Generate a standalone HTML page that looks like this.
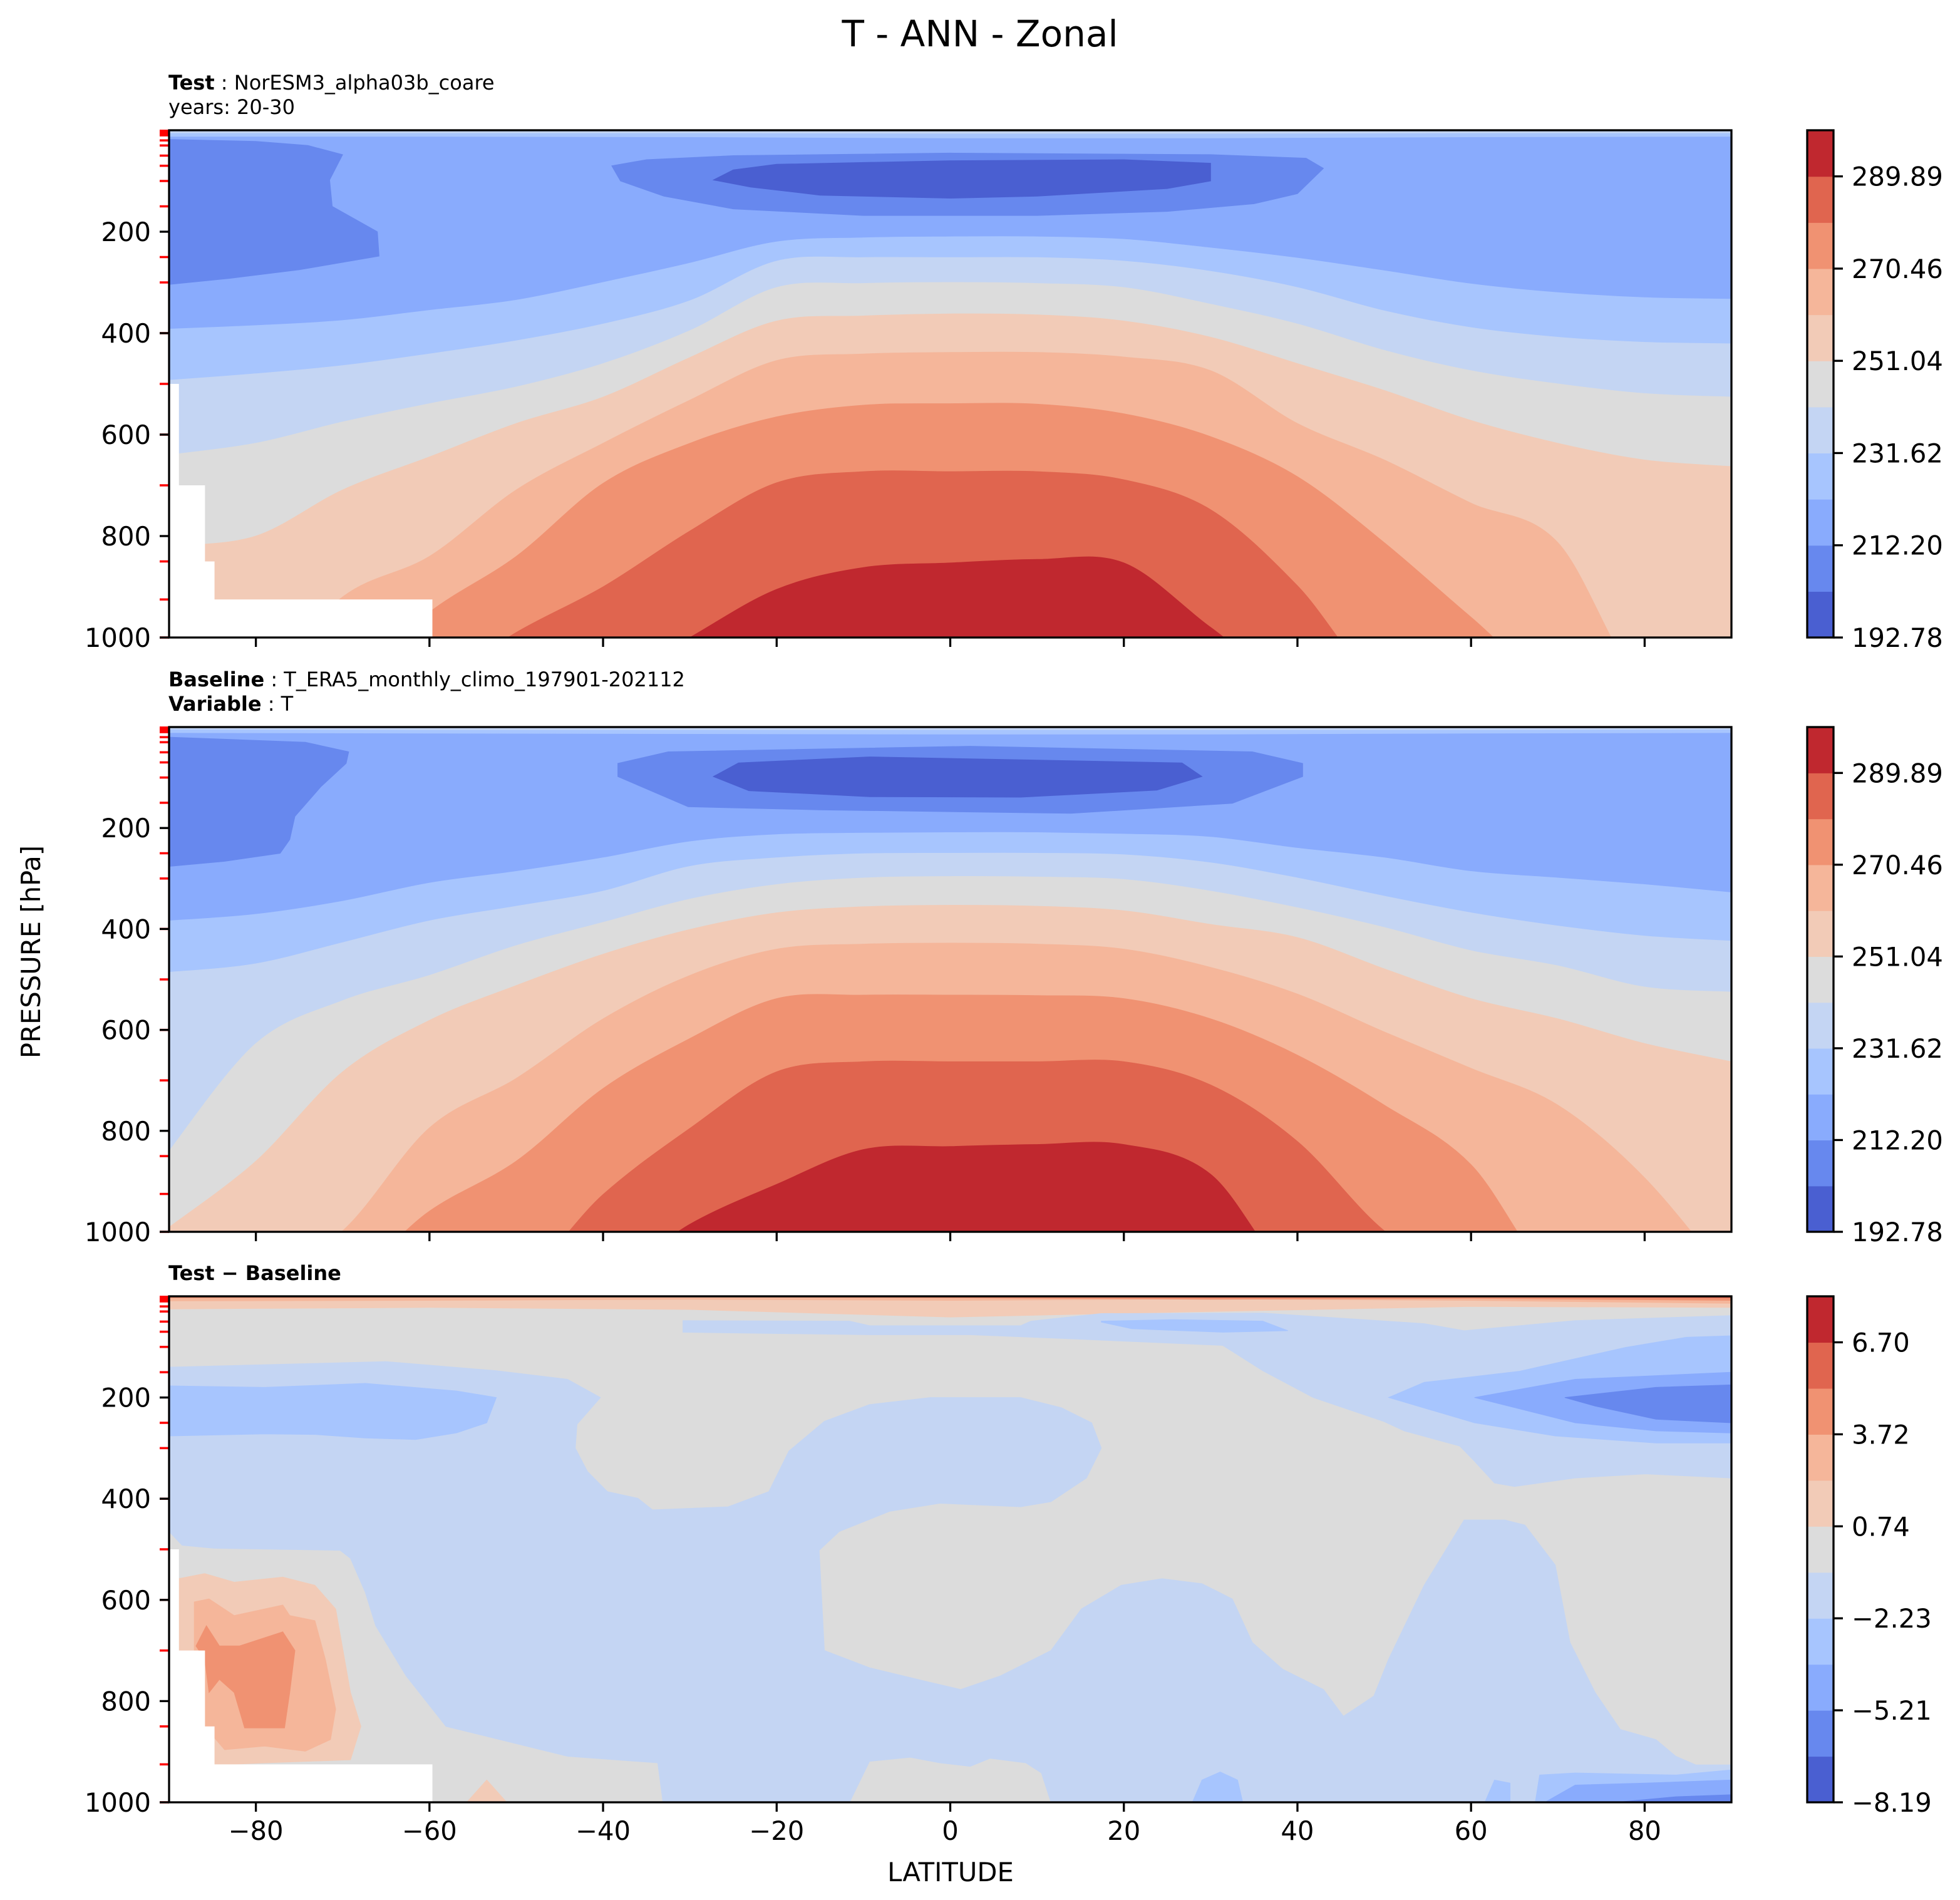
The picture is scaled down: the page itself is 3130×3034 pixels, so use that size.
<!DOCTYPE html>
<html><head><meta charset="utf-8">
<style>
html,body{margin:0;padding:0;background:#fff;}
svg{display:block;font-family:"DejaVu Sans","Liberation Sans",sans-serif;}
</style></head>
<body>
<svg id="fig" xmlns="http://www.w3.org/2000/svg" width="3130" height="3034" viewBox="0 0 3130 3034">
<rect x="0" y="0" width="3130" height="3034" fill="#fff"/>
<text x="1565" y="74" text-anchor="middle" font-size="58">T - ANN - Zonal</text>
<text x="269" y="143" font-size="32"><tspan font-weight="bold">Test</tspan><tspan> : NorESM3_alpha03b_coare</tspan></text>
<text x="269" y="182" font-size="32">years: 20-30</text>
<text x="269" y="1096" font-size="32"><tspan font-weight="bold">Baseline</tspan><tspan> : T_ERA5_monthly_climo_197901-202112</tspan></text>
<text x="269" y="1135" font-size="32"><tspan font-weight="bold">Variable</tspan><tspan> : T</tspan></text>
<text x="269" y="2044" font-size="32" font-weight="bold">Test − Baseline</text>
<text x="1518" y="3004" text-anchor="middle" font-size="41.7">LATITUDE</text>
<text x="0" y="0" transform="translate(64,1520) rotate(-90)" text-anchor="middle" font-size="41.7">PRESSURE [hPa]</text>
<g id="plots"></g>
</svg>
<script>
// ---------- data ----------
const lats = [-90,-80,-70,-60,-50,-40,-30,-20,-10,0,10,20,30,40,50,60,70,80,90];
// Test panel: pressure (hPa) of each contour level boundary (bin k begins below)
const p1k3 = [392,385,375,355,335,300,262,220,212,210,210,215,232,252,277,303,320,330,333];
const p1k4 = [493,480,464,441,415,382,336,258,251,251,251,258,278,310,356,389,408,418,421];
const p1k5 = [640,617,575,539,506,460,395,310,302,300,302,310,343,382,434,474,500,519,526];
const p1k6 = [820,800,709,644,578,526,448,376,366,362,364,376,408,460,513,572,617,650,663];
const p1k7 = [1100,1100,920,840,709,617,532,454,441,438,438,447,474,578,650,735,813,1100,1100];
const p1k8 = [1100,1100,1100,950,840,696,617,565,542,539,540,559,604,683,813,960,1100,1100,1100];
const p1k9 = [1100,1100,1100,1100,990,900,790,695,673,673,673,689,748,898,1100,1100,1100,1100,1100];
const p1k10 = [1100,1100,1100,1100,1100,1100,1000,905,862,853,846,853,980,1100,1100,1100,1100,1100,1100];
// Baseline panel
const p2k3 = [384,371,345,309,286,259,227,213,210,209,209,212,218,240,259,286,299,312,328];
const p2k4 = [486,469,427,384,355,325,276,259,251,250,250,253,269,299,335,368,394,414,424];
const p2k5 = [840,627,542,492,433,387,341,312,299,296,297,302,325,358,397,443,473,515,525];
const p2k6 = [991,860,683,581,512,450,401,368,356,353,355,364,391,417,479,538,578,627,663];
const p2k7 = [1100,1100,998,794,696,578,492,440,430,428,430,440,476,529,604,676,749,893,1100];
const p2k8 = [1100,1100,1100,959,860,716,617,538,531,531,532,538,578,650,749,867,1100,1100,1100];
const p2k9 = [1100,1100,1100,1100,1100,926,795,683,663,663,663,663,709,821,998,1100,1100,1100,1100];
const p2k10 = [1100,1100,1100,1100,1100,1100,985,906,837,831,827,827,886,1100,1100,1100,1100,1100,1100];
// stratospheric cold regions (lat, hPa)
const p1PolarLat = [-90,-80,-74,-70,-71.5,-71.2,-66,-65.8,-75,-83,-90];
const p1PolarP = [18,22,30,48,98,150,200,248,275,292,304];
const p1TropLat = [-39,-38,-33,-25,-10,10,25,35,40,43,41,30,0,-25,-35];
const p1TropP = [70,100,130,155,168,168,160,145,125,75,55,48,45,50,58];
const p1CoreLat = [-27.3,-25,-20,0,20,30,30,25,10,0,-15,-23];
const p1CoreP = [98,78,67,60,58,65,100,115,130,134,128,112];
const p2PolarLat = [-90,-74.3,-69.3,-69.6,-72.5,-75.5,-76.1,-77.2,-83.6,-90];
const p2PolarP = [20,30,49,72,118,177,223,250,266,276];
const p2TropLat = [-38.3,-32.5,2.3,34.8,40.6,40.6,32.5,13.9,-15.1,-30.2,-38.3];
const p2TropP = [72,49,38,49,72,98,151,171,164,158,98];
const p2CoreLat = [-27.3,-24.4,-9.3,26.7,29,23.8,8.1,-9.3,-23.2];
const p2CoreP = [98,71,59,71,98,125,139,138,126];
// top thin bands
const topLats = [-90,-60,-30,0,30,60,90];
const p1TopA = [12,12,13,15,15,13,12];
const p1TopC = [5,5,5,6,6,5,5];
const p2TopA = [11,12,13,14,14,12,11];
const p2TopC = [4,5,5,5,5,5,4];
const p3Top6 = [25,22,26,41,30,20,22];
const p3Top7 = [9,8,6,8,5,8,14];
const p3Top8 = [3,2,1,3,6,4,8];
const p3Top9 = [0,0,0,0,2,1,3];
// difference panel regions: [lat, hPa] vertices
const dA = [[-90,140],[-65,129],[-52.3,147],[-44.1,164],[-40.3,200],[-43,253],[-43.2,300],[-41.8,346],[-39.5,386],[-36,399],[-34.3,422],[-25.6,416],[-20.9,386],[-18.6,306],[-14.5,247],[-9.3,214],[-2.3,200],[8.1,200],[12.8,220],[16.3,250],[17.4,300],[15.7,359],[11.6,406],[8.1,416],[-1.2,409],[-7,425],[-12.8,465],[-15.1,502],[-14.5,700],[-9.3,734],[-2.3,763],[1.2,777],[5.8,750],[11.6,700],[15.1,618],[19.7,571],[24.4,558],[29,568],[32.5,598],[34.8,684],[38.3,737],[43,777],[45.3,830],[48.8,790],[50.5,717],[54.6,571],[59.2,442],[63.9,442],[66.2,452],[69.7,531],[71.4,684],[74.3,783],[77.2,856],[81.3,876],[83.6,909],[85.9,926],[90,926],[90,1000],[11.6,1000],[10.5,942],[8.7,922],[4.6,913],[2.3,929],[-1.2,922],[-4.6,911],[-9.3,919],[-11.6,1000],[-33.1,1000],[-33.7,922],[-44.1,909],[-58.1,850],[-62.7,750],[-66.2,651],[-67.4,585],[-69.1,518],[-70.3,502],[-84.8,498],[-88.5,492],[-90,465]];
const dC = [[-30.8,48],[-11.6,49],[-9.3,58],[8.1,58],[9.3,49],[17.4,34],[36,33],[54.6,54],[59.2,68],[72,48],[90,38],[90,359],[80.1,351],[72,359],[65,376],[62.7,369],[60.4,326],[58.7,296],[52.3,266],[49.9,247],[41.8,200],[36,147],[31.4,97],[13.9,84],[2.3,76],[-9.3,76],[-30.8,71]];
const dD = [[17.4,49],[25.6,46],[36,49],[38.9,68],[31.4,71],[20.9,64],[17.4,51]];
const dE = [[50.5,200],[54.6,170],[65.6,148],[77.8,101],[84.8,81],[90,78],[90,290],[81.3,290],[69.7,276],[60.4,250]];
const dF = [[60.4,200],[72,164],[90,150],[90,270],[81.3,266],[72,250]];
const dG = [[70.8,200],[81.3,180],[90,175],[90,250],[81.3,243],[74.3,217]];
const dB = [[-90,177],[-79,180],[-67.4,172],[-56.9,187],[-52.3,200],[-53.4,250],[-56.9,270],[-61.6,283],[-67.4,280],[-73.2,273],[-79,272],[-90,276]];
const dR1 = [[-88.9,558],[-85.9,548],[-82.5,565],[-76.9,555],[-73.2,571],[-70.8,618],[-69.1,783],[-67.9,850],[-69.1,916],[-79,922],[-84.2,926],[-88.9,926]];
const dR2 = [[-87.1,604],[-85.4,598],[-82.5,631],[-76.9,610],[-76.1,631],[-73.2,641],[-72,717],[-70.8,816],[-71.4,876],[-74.3,899],[-79,889],[-83.6,896],[-85.9,850],[-87.1,717]];
const dR3 = [[-86.9,691],[-85.7,651],[-84.2,691],[-81.9,691],[-76.9,663],[-75.5,700],[-76.1,783],[-76.7,853],[-81.3,853],[-82.5,783],[-84.2,757],[-85.4,783],[-85.9,717]];
const dR4 = [[-55.7,1000],[-53.4,956],[-51.1,1000]];
const dP1 = [[27.9,1000],[29,956],[31.1,940],[33.1,956],[33.7,1000]];
const dP2 = [[61.6,1000],[62.7,956],[64.5,962],[64.5,1000]];
const dP3 = [[67.4,1000],[67.9,946],[72,942],[83.6,946],[90,936],[90,1000]];
const dP4 = [[68.5,1000],[72,966],[80.1,962],[90,956],[90,1000]];
const dP5 = [[76.7,1000],[83.6,989],[90,985],[90,1000]];
// topography mask
const maskLatEdges = [-90,-88.9,-85.9,-84.8,-59.7];
const maskTopP = [500,700,850,925];
// axes ticks
const pTicks = [200,400,600,800,1000];
const levelTicks = [1,2,3,5,7,10,20,30,50,70,100,150,250,300,400,500,600,700,850,925,1000];
const latTicks = [-80,-60,-40,-20,0,20,40,60,80];
const cbar1Labels = ["192.78","212.20","231.62","251.04","270.46","289.89"];
const cbar3Labels = ["−8.19","−5.21","−2.23","0.74","3.72","6.70"];
const cmap = ["#4a5fd1","#6788ee","#89abfd","#a7c5fe","#c4d5f3","#dcdcdc","#f2cbb7","#f5b69a","#f09272","#e0654f","#c0282f"];

// ---------- drawing ----------
const NS = "http://www.w3.org/2000/svg";
const X0 = 270, XW = 2495;
const panels = [{top:208,h:810},{top:1161,h:806},{top:2070,h:808}];
const CBX = 2886, CBW = 42;
const root = document.getElementById('plots');
function xl(lat){ return X0 + (lat + 90) / 180 * XW; }
function mk(tag, attrs, parent){
  const e = document.createElementNS(NS, tag);
  for (const k in attrs) e.setAttribute(k, attrs[k]);
  parent.appendChild(e);
  return e;
}
function polyStr(pts, yf){ return pts.map(q => xl(q[0]).toFixed(1) + ',' + yf(q[1]).toFixed(1)).join(' '); }
function smoothPath(pts){
  let d = 'M' + pts[0][0].toFixed(1) + ',' + pts[0][1].toFixed(1);
  for (let i = 0; i < pts.length - 1; i++){
    const p0 = pts[Math.max(0, i - 1)], p1 = pts[i], p2 = pts[i + 1], p3 = pts[Math.min(pts.length - 1, i + 2)];
    const c1x = p1[0] + (p2[0] - p0[0]) / 6, c1y = p1[1] + (p2[1] - p0[1]) / 6;
    const c2x = p2[0] - (p3[0] - p1[0]) / 6, c2y = p2[1] - (p3[1] - p1[1]) / 6;
    d += ' C' + c1x.toFixed(1) + ',' + c1y.toFixed(1) + ' ' + c2x.toFixed(1) + ',' + c2y.toFixed(1) + ' ' + p2[0].toFixed(1) + ',' + p2[1].toFixed(1);
  }
  return d;
}

function drawPanel(idx){
  const P = panels[idx];
  const yf = p => P.top + p / 1000 * P.h;
  const g = mk('g', {}, root);
  
  
  const defs = mk('defs', {}, g);
  const cp = mk('clipPath', {id: 'clip' + idx}, defs);
  mk('rect', {x: X0, y: P.top, width: XW, height: P.h}, cp);
  const plot = mk('g', {'clip-path': 'url(#clip' + idx + ')'}, g);
  
  
  function poly(pts, bin, name){
    const e = mk('polygon', {points: polyStr(pts, yf), fill: cmap[bin], stroke: cmap[bin], 'stroke-width': 1}, plot);
    
    
  }
  function zip(a, b){ return a.map((v, i) => [v, b[i]]); }
  function topBand(arr, bin, name){
    const pts = [[-90, 0]].concat(zip(topLats, arr)).concat([[90, 0]]);
    poly(pts, bin, name);
  }
  function levelFill(arr, bin, name){
    const sp = lats.map((v, i) => [xl(v), yf(arr[i])]);
    let d = smoothPath(sp);
    d += ' L' + xl(90) + ',' + yf(1200) + ' L' + xl(-90) + ',' + yf(1200) + ' Z';
    const e = mk('path', {d: d, fill: cmap[bin], stroke: cmap[bin], 'stroke-width': 1}, plot);
    
    
  }
  if (idx < 2){
    const K = idx === 0 ? [p1k3,p1k4,p1k5,p1k6,p1k7,p1k8,p1k9,p1k10] : [p2k3,p2k4,p2k5,p2k6,p2k7,p2k8,p2k9,p2k10];
    const bg = mk('rect', {x: X0, y: P.top, width: XW, height: P.h, fill: cmap[2]}, plot);
    
    
    topBand(idx === 0 ? p1TopA : p2TopA, 3, 'top-band-a');
    topBand(idx === 0 ? p1TopC : p2TopC, 4, 'top-band-c');
    poly(idx === 0 ? zip(p1PolarLat, p1PolarP) : zip(p2PolarLat, p2PolarP), 1, 'polar-cold-region');
    poly(idx === 0 ? zip(p1TropLat, p1TropP) : zip(p2TropLat, p2TropP), 1, 'tropopause-cold-region');
    poly(idx === 0 ? zip(p1CoreLat, p1CoreP) : zip(p2CoreLat, p2CoreP), 0, 'tropopause-cold-core');
    K.forEach((arr, i) => levelFill(arr, i + 3, 'level-' + (i + 3) + '-region'));
  } else {
    const bg = mk('rect', {x: X0, y: P.top, width: XW, height: P.h, fill: cmap[5]}, plot);
    
    
    topBand(p3Top6, 6, 'top-band-6');
    topBand(p3Top7, 7, 'top-band-7');
    topBand(p3Top8, 8, 'top-band-8');
    topBand(p3Top9, 9, 'top-band-9');
    poly(dA, 4, 'cool-region-main');
    poly(dC, 4, 'cool-region-upper');
    poly(dD, 3, 'cool-patch-upper');
    poly(dE, 3, 'cool-patch-arctic');
    poly(dF, 2, 'cold-patch-arctic');
    poly(dG, 1, 'colder-patch-arctic');
    poly(dB, 3, 'cool-patch-antarctic');
    poly(dR1, 6, 'warm-region-antarctic');
    poly(dR2, 7, 'warmer-region-antarctic');
    poly(dR3, 8, 'warmest-region-antarctic');
    poly(dR4, 6, 'warm-patch-surface');
    poly(dP1, 3, 'cool-patch-surface-1');
    poly(dP2, 3, 'cool-patch-surface-2');
    poly(dP3, 3, 'cool-patch-surface-3');
    poly(dP4, 2, 'cold-patch-surface');
    poly(dP5, 1, 'colder-patch-surface');
  }
  if (idx !== 1){
    for (let i = 0; i < maskTopP.length; i++){
      const m = mk('rect', {x: xl(maskLatEdges[i]), y: yf(maskTopP[i]), width: xl(maskLatEdges[i+1]) - xl(maskLatEdges[i]) + 0.5, height: yf(1000) - yf(maskTopP[i]) + 2, fill: '#fff'}, plot);
      
      
    }
  }
  levelTicks.forEach(p => {
    const t = mk('line', {x1: X0 - 15, x2: X0, y1: yf(p), y2: yf(p), stroke: '#ff0000', 'stroke-width': 3.5}, g);
    
    
  });
  pTicks.forEach(p => {
    const t = mk('line', {x1: X0 - 15, x2: X0, y1: yf(p), y2: yf(p), stroke: '#000', 'stroke-width': 3.3}, g);
    
    
    const l = mk('text', {x: X0 - 29, y: yf(p) + 15, 'text-anchor': 'end', 'font-size': 41.7}, g);
    l.textContent = String(p);
    
    
  });
  latTicks.forEach(v => {
    const t = mk('line', {x1: xl(v), x2: xl(v), y1: P.top + P.h, y2: P.top + P.h + 15, stroke: '#000', 'stroke-width': 3.3}, g);
    
    
    if (idx === 2){
      const l = mk('text', {x: xl(v), y: P.top + P.h + 60, 'text-anchor': 'middle', 'font-size': 41.7}, g);
      l.textContent = v < 0 ? '−' + Math.abs(v) : String(v);
      
      
    }
  });
  const fr = mk('rect', {x: X0, y: P.top, width: XW, height: P.h, fill: 'none', stroke: '#000', 'stroke-width': 3.3}, g);
  
  
  const cb = mk('g', {}, g);
  
  
  const bh = P.h / 11;
  for (let b = 0; b < 11; b++){
    const r = mk('rect', {x: CBX, y: P.top + P.h - (b + 1) * bh, width: CBW, height: bh + 0.6, fill: cmap[b]}, cb);
    
    
  }
  const cbf = mk('rect', {x: CBX, y: P.top, width: CBW, height: P.h, fill: 'none', stroke: '#000', 'stroke-width': 3.3}, cb);
  
  
  const labs = idx === 2 ? cbar3Labels : cbar1Labels;
  labs.forEach((s, i) => {
    const y = P.top + P.h - i * 2 * bh;
    const t = mk('line', {x1: CBX + CBW, x2: CBX + CBW + 15, y1: y, y2: y, stroke: '#000', 'stroke-width': 3.3}, cb);
    
    
    const l = mk('text', {x: CBX + CBW + 29, y: y + 15, 'font-size': 41.7}, cb);
    l.textContent = s;
    
    
  });
}
[0,1,2].forEach(drawPanel);
</script>
</body></html>
